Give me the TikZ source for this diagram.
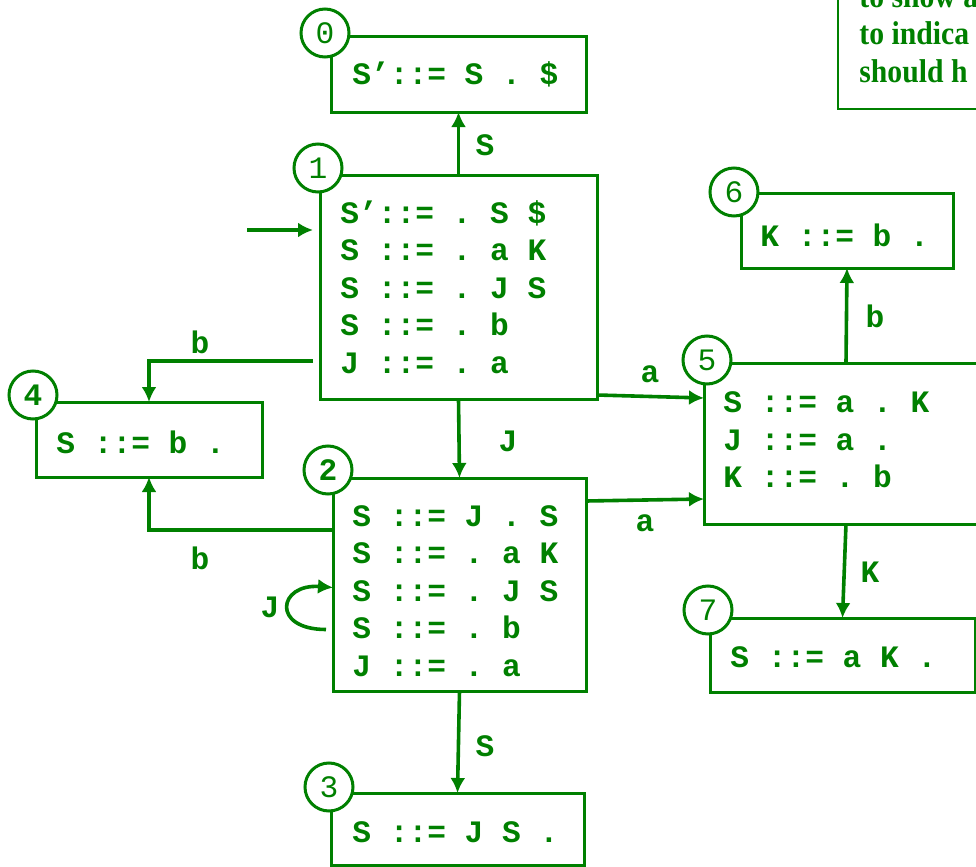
\documentclass[tikz,border=0pt]{standalone}
\usepackage{fontspec}
\setmainfont{Liberation Serif}
\setmonofont{Liberation Mono}
\usetikzlibrary{arrows.meta,fit}
\definecolor{lrgruen}{RGB}{0,128,0}

\begin{document}
\begin{tikzpicture}[x=0.5pt, y=-0.5pt,
    zustand/.style={draw=lrgruen, line width=1.5pt, rectangle, inner sep=0pt, outer sep=0pt},
    nummer/.style={draw=lrgruen, fill=white, line width=1.5pt, circle, minimum size=24pt, inner sep=0pt, text=lrgruen, font=\fontsize{15.6}{18}\ttfamily},
    regeln/.style={anchor=west, align=left, inner sep=0pt, text=lrgruen, font=\fontsize{15.6}{18.75}\ttfamily\bfseries},
    marke/.style={inner sep=0pt, text=lrgruen, font=\fontsize{15.6}{18}\ttfamily\bfseries},
    notiztext/.style={anchor=base west, inner sep=0pt, text=lrgruen, font=\fontsize{16.5}{18}\rmfamily\bfseries},
    uebergang/.style={draw=lrgruen, line width=1.8pt, -{Latex[length=7.5pt,width=7.5pt]}},
    >=latex]
    %Bildbereich
    \useasboundingbox (0,0) rectangle (976,867);
    \clip (0,0) rectangle (976,867);
    %Notiz oben rechts
    \node[draw=lrgruen, line width=1pt, inner sep=0pt, fit={(838,-20) (1010,109)}] (notiz) {};
    \node[notiztext] (notiz1) at (859,7) {\scalebox{0.9}[1]{to show a}};
    \node[notiztext] (notiz2) at (859,45) {\scalebox{0.9}[1]{to indica}};
    \node[notiztext] (notiz3) at (859,83) {\scalebox{0.9}[1]{should h}};
    %Zustaende zeichnen
    \node[zustand, fit={(331,36) (586,112)}] (s0) {};
    \node[zustand, fit={(320,175) (597,399)}] (s1) {};
    \node[zustand, fit={(333,478) (586,691)}] (s2) {};
    \node[zustand, fit={(331,793) (584,865)}] (s3) {};
    \node[zustand, fit={(36,402) (262,477)}] (s4) {};
    \node[zustand, fit={(704,363) (988,524)}] (s5) {};
    \node[zustand, fit={(741,193) (953,268)}] (s6) {};
    \node[zustand, fit={(710,618) (975,692)}] (s7) {};
    %Items
    \node[regeln] (r0) at (352,74) {S’::= S . \$};
    \node[regeln] (r1) at (340,287) {S’::= . S \$\\S ::= . a K\\S ::= . J S\\S ::= . b\\J ::= . a};
    \node[regeln] (r2) at (352,591) {S ::= J . S\\S ::= . a K\\S ::= . J S\\S ::= . b\\J ::= . a};
    \node[regeln] (r3) at (352,832) {S ::= J S .};
    \node[regeln] (r4) at (56,442) {S ::= b .};
    \node[regeln] (r5) at (723,440) {S ::= a . K\\J ::= a .\\K ::= . b};
    \node[regeln] (r6) at (760,235) {K ::= b .};
    \node[regeln] (r7) at (730,657) {S ::= a K .};
    %Nummern
    \node[nummer] (n0) at (325,33) {0};
    \node[nummer] (n1) at (318,168) {1};
    \node[nummer, font=\fontsize{15.6}{18}\ttfamily\bfseries] (n2) at (328,470) {2};
    \node[nummer] (n3) at (329,787) {3};
    \node[nummer, font=\fontsize{15.6}{18}\ttfamily\bfseries] (n4) at (33,395) {4};
    \node[nummer] (n5) at (707,360) {5};
    \node[nummer] (n6) at (734,192) {6};
    \node[nummer] (n7) at (708,610) {7};
    %Uebergaenge
    \coordinate (start) at (247,230);
    \draw[uebergang] (start) -- ([shift={(-7,55)}]s1.north west);
    \draw[uebergang] (s1.north) -- (s0.south);
    \draw[uebergang] (s1.south) -- (s2.north);
    \draw[uebergang] (s2.south) -- (s3.north);
    \draw[uebergang] ([shift={(-7,-38)}]s1.south west) -| (s4.north);
    \draw[uebergang] (s2.west |- 0,530) -| (s4.south);
    \draw[uebergang] ([shift={(0,-4)}]s1.south east) -- ([shift={(0,35)}]s5.north west);
    \draw[uebergang] ([shift={(0,23)}]s2.north east) -- ([shift={(0,-25)}]s5.south west);
    \draw[uebergang] (s5.north) -- (s6.south);
    \draw[uebergang] (s5.south) -- (s7.north);
    \draw[uebergang] ([shift={(-7,45)}]s2.west) .. controls +(-55,0) and +(-55,-4) .. ([shift={(0,3)}]s2.west);
    %Beschriftung
    \node[marke] (mS10) at (485,145) {S};
    \node[marke] (mJ12) at (508,441) {J};
    \node[marke] (mS23) at (485,746) {S};
    \node[marke] (mb14) at (200,342) {b};
    \node[marke] (mb24) at (200,558) {b};
    \node[marke] (ma15) at (650,374) {a};
    \node[marke] (ma25) at (645,523) {a};
    \node[marke] (mb56) at (875,316) {b};
    \node[marke] (mK57) at (870,572) {K};
    \node[marke] (mJ22) at (270,607) {J};
\end{tikzpicture}
\end{document}
